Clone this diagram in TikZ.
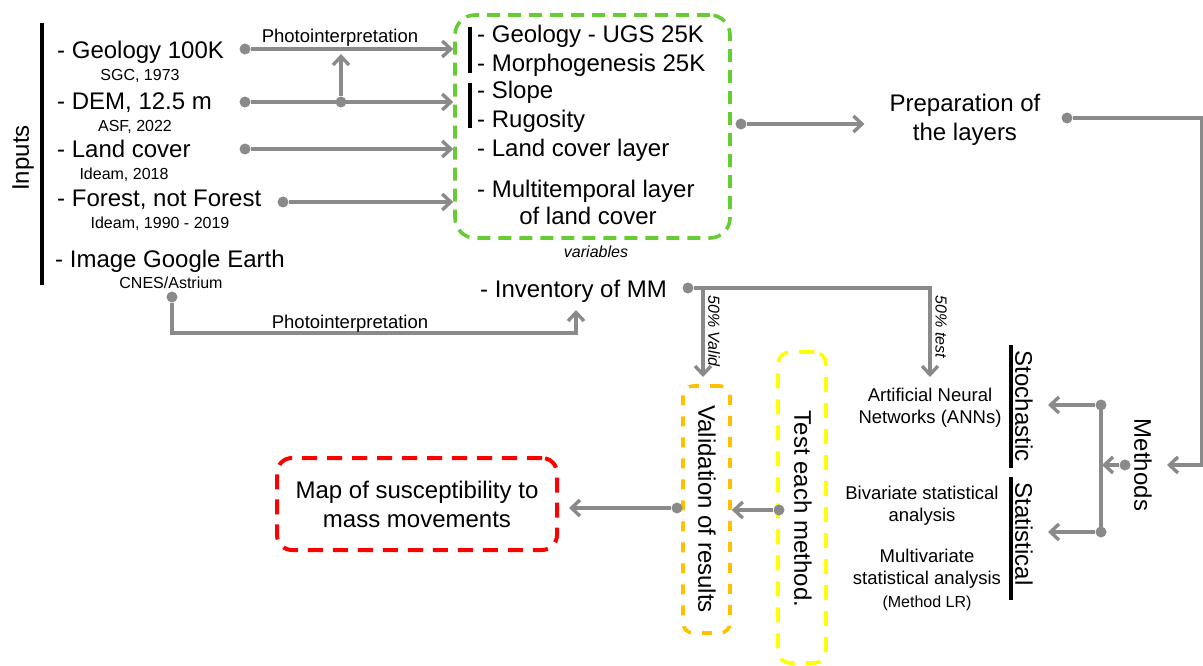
\documentclass[tikz,border=0pt]{standalone}
\usepackage{fontspec}
\setmainfont{Liberation Sans}
\usetikzlibrary{arrows.meta}
\definecolor{gcol}{HTML}{8A8A8A}
\definecolor{grn}{HTML}{66CC33}
\definecolor{org}{HTML}{FFC000}
\definecolor{ylw}{HTML}{FFFF00}
\definecolor{rd}{HTML}{FF0000}
\begin{document}
\begin{tikzpicture}[x=1pt,y=-1pt,
  con/.style={draw=gcol,line width=3.4pt,-{Straight Barb[length=8.5pt,width=16pt]}},
  plain/.style={draw=gcol,line width=3.4pt},
  dot/.style={circle,fill=gcol,inner sep=0pt,minimum size=11pt},
  big/.style={font=\fontsize{24}{29}\selectfont,inner sep=0pt},
  med/.style={font=\fontsize{18.5}{22}\selectfont,inner sep=0pt},
  small/.style={font=\fontsize{16}{20}\selectfont,inner sep=0pt},
  ital/.style={font=\fontsize{16}{20}\selectfont\itshape,inner sep=0pt},
  bar/.style={draw=black,line width=3.2pt},
  gbox/.style={draw=grn,line width=3.6pt,dash pattern=on 13pt off 8pt,rounded corners=20pt},
  obox/.style={draw=org,line width=3.6pt,dash pattern=on 10pt off 11pt,rounded corners=10pt},
  ybox/.style={draw=ylw,line width=3.6pt,dash pattern=on 15pt off 11pt,rounded corners=12pt},
  rbox/.style={draw=rd,line width=4pt,dash pattern=on 15pt off 10pt,rounded corners=15pt}
]
\useasboundingbox (0,0) rectangle (1203,666);

% ---------- Inputs ----------
\node[big,rotate=90] (inputs) at (23,158) {Inputs};
\draw[bar] (42,23) -- (42,285);
\node[big,anchor=base west] (geo) at (57,59) {- Geology 100K};
\node[small,anchor=base] (geos) at (140,81) {SGC, 1973};
\node[big,anchor=base west] (dem) at (57,110) {- DEM, 12.5 m};
\node[small,anchor=base] (dems) at (135,132) {ASF, 2022};
\node[big,anchor=base west] (lc) at (57,158) {- Land cover};
\node[small,anchor=base] (lcs) at (124,180) {Ideam, 2018};
\node[big,anchor=base west] (fo) at (57,207) {- Forest, not Forest};
\node[small,anchor=base] (fos) at (160,229) {Ideam, 1990 - 2019};
\node[big,anchor=base west] (ge) at (55,267) {- Image Google Earth};
\node[small,anchor=base] (ges) at (171,288) {CNES/Astrium};

% ---------- variables box ----------
\node[gbox,minimum width=275pt,minimum height=223pt] (green) at (592.5,126.5) {};
\draw[bar] (470,27) -- (470,73);
\draw[bar] (470,83) -- (470,128);
\node[big,anchor=base west] (v1) at (477,43) {- Geology - UGS 25K};
\node[big,anchor=base west] (v2) at (477,72) {- Morphogenesis 25K};
\node[big,anchor=base west] (v3) at (477,99) {- Slope};
\node[big,anchor=base west] (v4) at (477,128) {- Rugosity};
\node[big,anchor=base west] (v5) at (477,157) {- Land cover layer};
\node[big,anchor=base west] (v6) at (477,197) {- Multitemporal layer};
\node[big,anchor=base] (v7) at (588,225) {of land cover};
\node[ital,anchor=base] (vars) at (596,257) {variables};

% ---------- input arrows ----------
\node[dot] (d1) at (245,49) {};
\draw[con] (d1) -- (d1 -| green.west);
\node[med,anchor=base] (pi1) at (340,43) {Photointerpretation};
\node[dot] (d2) at (245,102) {};
\draw[con] (d2) -- (d2 -| green.west);
\node[dot] (j1) at (341,102) {};
\draw[con,shorten >=5pt] (j1) -- (j1 |- d1);
\node[dot] (d3) at (245,149) {};
\draw[con] (d3) -- (d3 -| green.west);
\node[dot] (d4) at (283,202) {};
\draw[con] (d4) -- (d4 -| green.west);

% ---------- Google Earth -> inventory ----------
\node[big,anchor=base west] (inv) at (480,297) {- Inventory of MM};
\node[dot] (d5) at (172,297) {};
\coordinate (c5) at (172,333);
\coordinate (t6) at (576,310);
\draw[con] (d5) -- (c5) -| (t6);
\node[med,anchor=base] (pi2) at (350,328) {Photointerpretation};

% ---------- preparation ----------
\node[big,align=center] (prep) at (965,120) {Preparation of\\the layers};
\node[dot] (gd) at (741,124) {};
\draw[con,shorten >=25pt] (gd) -- (gd -| prep.west);
\node[dot] (pd) at (1067,118) {};
\coordinate (rc) at (1201.5,118);
\coordinate (mt) at (1167,465);
\draw[con] (pd) -- (rc) |- (mt);

% ---------- methods ----------
\node[big,rotate=-90] (meth) at (1143,465) {Methods};
\node[dot] (md) at (1125,465) {};
\node[dot] (st) at (1101,405) {};
\node[dot] (sb) at (1101,532) {};
\draw[plain] (st.center) -- (sb.center);
\draw[con,shorten >=1pt] (md) -- (md -| st);
\coordinate (ta) at (1048,405);
\coordinate (tb) at (1048,532);
\draw[con] (st) -- (ta);
\draw[con] (sb) -- (tb);

\draw[bar] (1011,345) -- (1011,468);
\draw[bar] (1011,477) -- (1011,600);
\node[big,rotate=-90] (sto) at (1024,406) {Stochastic};
\node[big,rotate=-90] (sta) at (1024,534) {Statistical};

\node[med,align=center] (ann) at (930,408) {Artificial Neural\\Networks (ANNs)};
\node[med,align=center] (biv) at (922,506) {Bivariate statistical\\analysis};
\node[med,align=center] (mult) at (927,569) {Multivariate\\statistical analysis};
\node[small,anchor=base] (mlr) at (927,607) {(Method LR)};

% ---------- inventory split ----------
\node[dot] (id) at (688,288) {};
\coordinate (tv) at (703,377);
\coordinate (tt) at (930,377);
\draw[con] (id) -| (tt);
\draw[con] (id -| tv) -- (tv);
\node[ital,rotate=-90] (lv) at (714,331) {50\% Valid};
\node[ital,rotate=-90] (lt) at (941,327) {50\% test};

% ---------- validation / test ----------
\node[obox,minimum width=47pt,minimum height=247pt] (val) at (706.5,509.5) {};
\node[big,rotate=-90] (valt) at (707,509) {Validation of results};
\node[ybox,minimum width=48pt,minimum height=311pt] (tst) at (802,507.5) {};
\node[big,rotate=-90] (tstt) at (803,509) {Test each method.};

\node[rbox,big,align=center,minimum width=280pt,minimum height=92pt] (red) at (417,504) {Map of susceptibility to\\mass movements};

\node[dot] (yd) at (779,510) {};
\draw[con] (yd) -- (yd -| val.east);
\node[dot] (od) at (677,508) {};
\draw[con,shorten >=10pt] (od) -- (od -| red.east);
\end{tikzpicture}
\end{document}
